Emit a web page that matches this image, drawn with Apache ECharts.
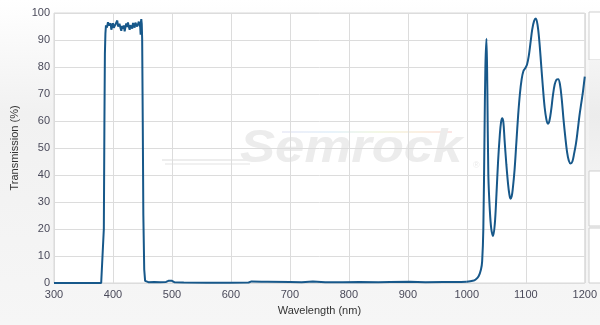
<!DOCTYPE html>
<html><head><meta charset="utf-8">
<script src="https://cdn.jsdelivr.net/npm/echarts@6/dist/echarts.min.js"></script>
<style>html,body{margin:0;padding:0;background:#fff}#c{width:600px;height:325px}</style>
</head><body><div id="c"></div>
<script>
// Wavelength (nm)
const wavelengths = [300,340,380,383,384.5,385.5,386.3,387.2,388.1,389.8,391.5,393.2,394.9,396,397.2,398.6,400,401.4,402.8,404.2,405.6,407.3,408.5,409.6,411,411.9,413,414.1,415.5,417,418.4,419.8,421,422.5,424,425.4,427,428.3,429.6,431,432.7,434,435,436.8,438,439.5,441,442.4,443.8,445.2,446.2,446.9,447.5,448,448.8,449.5,450.5,451.5,453,454.5,456,460,470,480,490,494,497,500,504,520,560,590,593,596,630,635,638,652,655,662,665,700,720,739,760,790,818,850,870,903,930,960,990,1000,1010,1015,1020,1024,1026,1028,1030,1031.5,1033.3,1034.8,1036.5,1039,1041.5,1044.5,1047.5,1050.3,1053,1056,1058,1060,1062,1064,1067,1070,1072,1074,1076,1078,1081,1084,1087,1090,1093,1096,1099,1102,1105,1108,1111,1114,1117,1120,1123,1126,1129,1132,1135,1137.5,1140,1143,1146,1149,1152,1155,1158,1161,1164,1167,1170,1173,1176,1179,1182,1185,1188,1191,1194,1197,1200];
// Transmission (%)
const transmission = [0,0,0,0,20,60,85,92.5,95.4,94.6,96.6,95.4,95.5,96.2,93.8,95.0,96.2,94.5,94.0,95.8,96.3,97.2,95.0,94.3,96.0,95.8,94.3,93.4,95.2,94.2,95.4,93.2,94.6,96.1,94.8,96.5,94.8,93.8,95.5,96.2,94.2,96.3,96.9,94.6,96.4,96.6,95.0,95.8,96.8,97.4,94.8,92.0,96.8,97.7,96,90.4,60,25,5,0.8,0.3,0.3,0.4,0.3,0.4,0.8,1.3,0.8,0.3,0.2,0.1,0.1,0.4,0.1,0.2,0.6,0.2,0.5,0.2,0.5,0.2,0.4,0.3,0.6,0.3,0.3,0.4,0.3,0.4,0.5,0.3,0.4,0.4,0.5,0.8,1.3,2.5,5,8,20,55,80,90.5,72,40,27,20,17.4,22,33,45,55,59.5,61,59.5,53,44,36.5,33,31.2,32,35,42,52,62,70,75.5,78.5,79.5,80.8,84,89,94,97,98,95.5,89.5,81,72.5,65,60.5,59,60,64,69.5,73.5,75.3,75.5,73.5,68,60.5,54,48.5,45.3,44.3,45,48,51.5,56.5,62,66.5,71,76.4];
const xTicks = [300,400,500,600,700,800,900,1000,1100,1200];
const yTicks = [0,10,20,30,40,50,60,70,80,90,100];

const data = wavelengths.map((w,i)=>[w, transmission[i]]);
const split = wavelengths.indexOf(1000);
const visData = data.slice(0, split+1);
const irData = data.slice(split);
const chart = echarts.init(document.getElementById('c'), null, {renderer:'canvas'});
const font = '"Liberation Sans", Arial, sans-serif';
const lineStyle = {color:'#17588a',width:2};
chart.setOption({
  animation:false,
  backgroundColor:{type:'linear',x:0,y:0,x2:0,y2:1,colorStops:[{offset:0,color:'#ffffff'},{offset:0.35,color:'#f1f1f1'},{offset:1,color:'#f6f6f6'}]},
  grid:{left:54,right:15,top:13,bottom:42,show:true,backgroundColor:'#ffffff',borderColor:'#d8d8d8',borderWidth:1},
  xAxis:{type:'value',min:xTicks[0],max:xTicks[xTicks.length-1],interval:100,
    name:'Wavelength (nm)',nameLocation:'middle',nameGap:22,
    nameTextStyle:{color:'#333',fontSize:11,fontFamily:font},
    axisLine:{show:false},axisTick:{show:false},
    axisLabel:{color:'#4a4a5a',fontSize:11,fontFamily:font,margin:6,formatter:v=>String(v)},
    splitLine:{show:true,lineStyle:{color:'#dcdcdc',width:1}}},
  yAxis:{type:'value',min:yTicks[0],max:yTicks[yTicks.length-1],interval:10,
    name:'Transmission (%)',nameLocation:'middle',nameGap:31,
    nameTextStyle:{color:'#333',fontSize:11,fontFamily:font},
    axisLine:{show:false},axisTick:{show:false},
    axisLabel:{color:'#4a4a5a',fontSize:11,fontFamily:font,margin:4,formatter:v=>String(v)},
    splitLine:{show:true,lineStyle:{color:'#dcdcdc',width:1}}},
  graphic:[
    {type:'group',z:1,children:[
      {type:'line',shape:{x1:162,y1:160,x2:255,y2:160},style:{stroke:'#ededed',lineWidth:2}},
      {type:'line',shape:{x1:165,y1:164,x2:250,y2:164},style:{stroke:'#ededed',lineWidth:1.5}},
      {type:'line',shape:{x1:282,y1:132,x2:452,y2:132},style:{stroke:{type:'linear',x:0,y:0,x2:1,y2:0,colorStops:[{offset:0,color:'#eeeef8'},{offset:0.3,color:'#e8f3fb'},{offset:0.55,color:'#f3f8e6'},{offset:0.8,color:'#fbf0e2'},{offset:1,color:'#fbe4e4'}]},lineWidth:2}},
      {type:'text',x:240,y:149,scaleX:1.12,style:{text:'Semrock',font:'italic bold 47px "Liberation Sans", Arial, sans-serif',fill:'#ececec',textVerticalAlign:'middle'}},
      {type:'text',x:473,y:161,style:{text:'®',font:'9px Arial',fill:'#ebebeb'}}
    ]},
    {type:'rect',shape:{x:589,y:12,width:20,height:48},style:{fill:'#ffffff',stroke:'#cfcfcf',lineWidth:1}},
    {type:'rect',shape:{x:589,y:60,width:20,height:111},style:{fill:{type:'linear',x:0,y:0,x2:0,y2:1,colorStops:[{offset:0,color:'#f4f4f4'},{offset:0.5,color:'#ececec'},{offset:1,color:'#f2f2f2'}]}}},
    {type:'rect',shape:{x:589,y:171,width:20,height:55},style:{fill:'#ffffff',stroke:'#cfcfcf',lineWidth:1}},
    {type:'rect',shape:{x:589,y:228,width:20,height:55},style:{fill:'#ffffff',stroke:'#cfcfcf',lineWidth:1}}
  ],
  series:[
    {type:'line',data:visData,showSymbol:false,smooth:false,z:5,lineStyle:lineStyle,itemStyle:{color:'#17588a'}},
    {type:'line',data:irData,showSymbol:false,smooth:0.35,z:5,lineStyle:lineStyle,itemStyle:{color:'#17588a'}}
  ]
});
</script></body></html>
